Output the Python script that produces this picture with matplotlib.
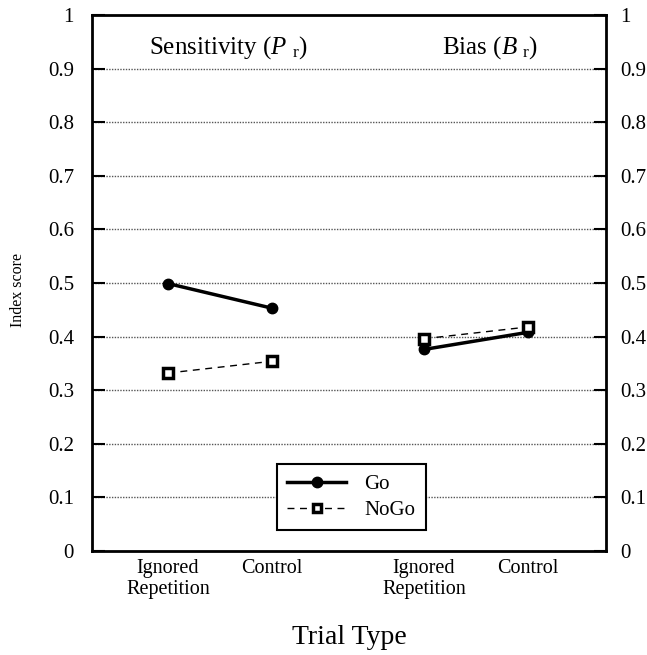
import matplotlib
matplotlib.use("Agg")
import matplotlib.pyplot as plt

plt.rcParams['font.family'] = ['Liberation Serif', 'DejaVu Serif']
plt.rcParams['mathtext.fontset'] = 'custom'
plt.rcParams['mathtext.rm'] = 'Liberation Serif'
plt.rcParams['mathtext.it'] = 'Liberation Serif:italic'

# Data
categories = ["Ignored\nRepetition", "Control", "Ignored\nRepetition", "Control"]
panels = ["Sensitivity", "Bias"]
go_sensitivity = [0.499, 0.453]
nogo_sensitivity = [0.332, 0.354]
go_bias = [0.376, 0.408]
nogo_bias = [0.396, 0.418]
yticks = [0, 0.1, 0.2, 0.3, 0.4, 0.5, 0.6, 0.7, 0.8, 0.9, 1]
ytick_labels = ["0", "0.1", "0.2", "0.3", "0.4", "0.5", "0.6", "0.7", "0.8", "0.9", "1"]

# layout positions
xpos_sens = [1.0, 2.0]
xpos_bias = [3.46, 4.46]

W, H = 647, 655
fig = plt.figure(figsize=(W / 100, H / 100), dpi=100)
ax = fig.add_axes([92 / W, 1 - 551 / H, (606 - 92) / W, (551 - 15) / H])

ax.set_xlim(0.27, 5.21)
ax.set_ylim(0, 1)

# gridlines
for y in yticks[1:-1]:
    ax.axhline(y, color='#555555', lw=1.0, ls=(0, (1, 1)), zorder=1)

go_style = dict(color='black', lw=2.5, marker='o', ms=7.5, mfc='black', mec='black', zorder=4)
nogo_style = dict(color='black', lw=1.0, ls=(0, (5, 4)), marker='s', ms=7.5, mfc='white',
                  mec='black', mew=2.5, zorder=5)

ax.plot(xpos_sens, go_sensitivity, label='Go', **go_style)
ax.plot(xpos_sens, nogo_sensitivity, label='NoGo', **nogo_style)
ax.plot(xpos_bias, go_bias, **go_style)
ax.plot(xpos_bias, nogo_bias, **nogo_style)

for s in ax.spines.values():
    s.set_linewidth(2.0)
    s.set_color('black')

ax.set_yticks(yticks)
ax.set_yticklabels(ytick_labels, fontsize=15)
ax.tick_params(axis='y', direction='in', length=9, width=1.5, pad=13,
               left=True, right=False, labelleft=True, labelright=False)

ax2 = ax.twinx()
ax2.set_ylim(0, 1)
ax2.set_yticks(yticks)
ax2.set_yticklabels(ytick_labels, fontsize=15)
ax2.tick_params(axis='y', direction='in', length=9, width=1.5, pad=10)
for s in ax2.spines.values():
    s.set_visible(False)

ax.set_xticks(xpos_sens + xpos_bias)
ax.set_xticklabels(categories, fontsize=14.5, linespacing=1.15)
ax.tick_params(axis='x', length=0, pad=6)

ax.set_ylabel("Index score", fontsize=11.5)
ax.yaxis.set_label_coords(26 / W, 1 - 290 / H, transform=fig.transFigure)
fig.text(349 / W, 1 - 638 / H, "Trial Type", fontsize=20, ha='center', va='center')

# panel titles
fig.text(228 / W, 1 - 48 / H, r"Sensitivity ($P\ _{\mathrm{r}}$)", fontsize=18,
         ha='center', va='center')
fig.text(490 / W, 1 - 48 / H, r"Bias ($B\ _{\mathrm{r}}$)", fontsize=18,
         ha='center', va='center')

leg = ax.legend(loc='upper left', bbox_to_anchor=(277 / W, 1 - 464 / H),
                bbox_transform=fig.transFigure, borderaxespad=0, fancybox=False,
                edgecolor='black', fontsize=15, handlelength=2.8, framealpha=1,
                borderpad=0.5, labelspacing=0.3, handletextpad=0.9)
leg.get_frame().set_linewidth(1.5)
leg.legend_handles[1].set_markersize(6)

fig.savefig("out.png", dpi=100)
